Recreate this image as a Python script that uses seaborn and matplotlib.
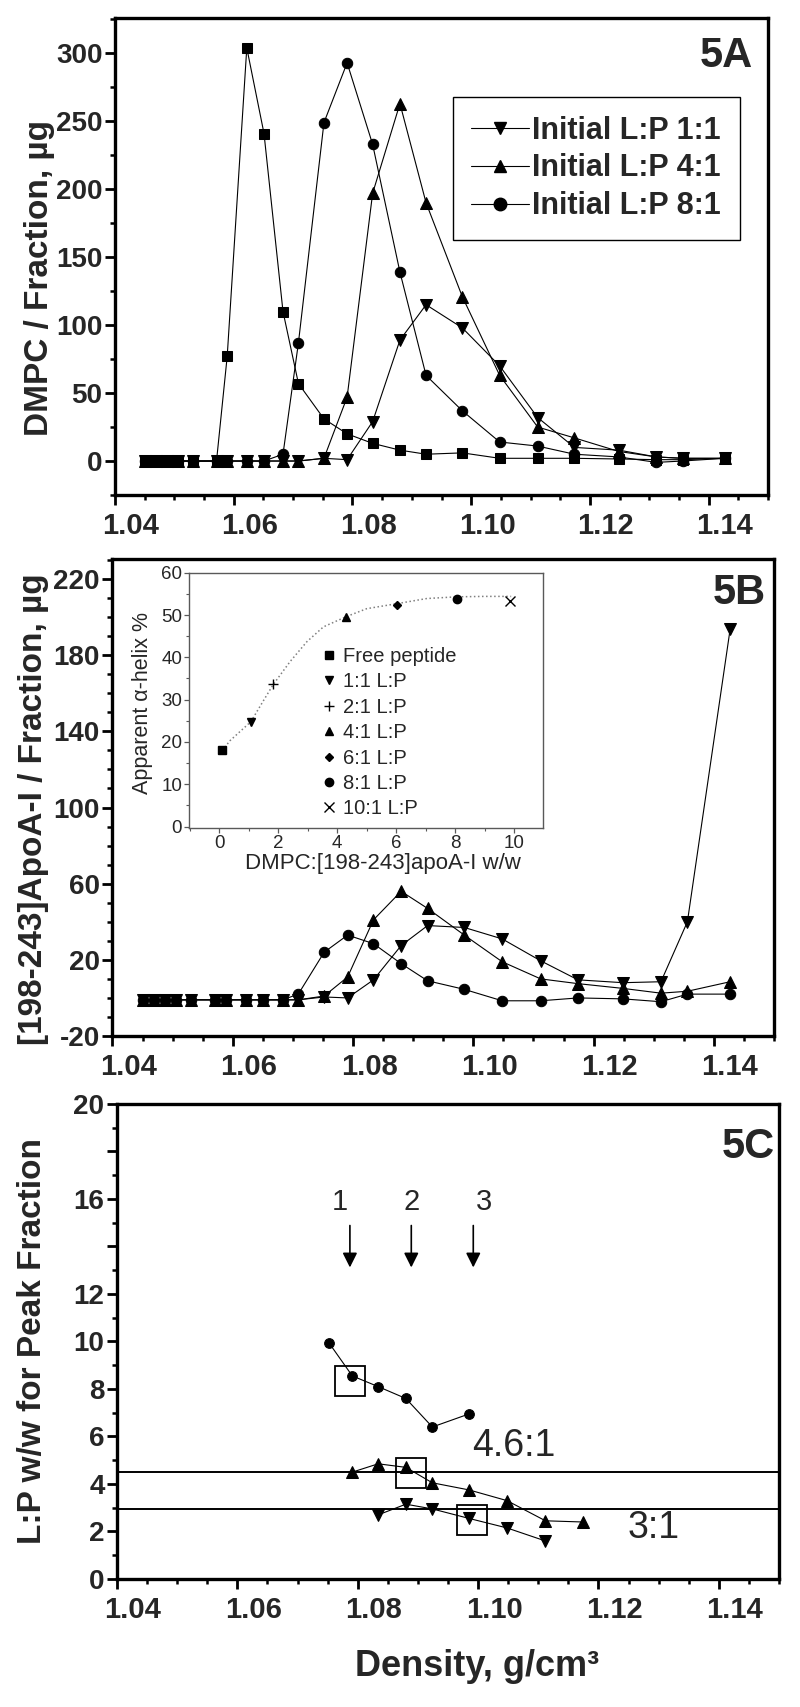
import numpy as np
import pandas as pd
import matplotlib
matplotlib.use("Agg")
import matplotlib.pyplot as plt
import matplotlib.transforms as mtransforms
from matplotlib.lines import Line2D
from matplotlib.ticker import FixedLocator, MultipleLocator
import seaborn as sns

# fraction densities (g/cm3), shared by panels 5A and 5B
density = [1.0451, 1.0469, 1.0488, 1.0506, 1.0531, 1.0571, 1.0589, 1.0622, 1.0651, 1.0683,
           1.0709, 1.0752, 1.0791, 1.0834, 1.0880, 1.0924, 1.0985, 1.1048, 1.1112, 1.1174,
           1.1249, 1.1312, 1.1356, 1.1427]

# 5A: DMPC / fraction (ug)
a_free = [0, 0, 0, 0, 0, 0, 77, 304, 241, 110, 57, 31, 20, 13, 8, 5, 6, 2, 2, 2, 1.5, 1, 1, 2]
a_lp11 = [0, 0, 0, 0, 0, 0, 0, 0, 0, 0, 0, 2, 1, 29, 89, 115, 98, 70, 32, 10, 8, 3, 2, 2]
a_lp41 = [0, 0, 0, 0, 0, 0, 0, 0, 0, 0, 0, 2, 47, 197, 263, 190, 121, 63, 25, 17, 7, 3, 2, 2]
a_lp81 = [0, 0, 0, 0, 0, 0, 0, 0, 0, 5, 87, 249, 293, 233, 139, 63, 37, 14, 11, 5, 3, -1, 0, 2]
a_legend = ['Initial L:P 1:1', 'Initial L:P 4:1', 'Initial L:P 8:1']

# 5B: [198-243]apoA-I / fraction (ug)
b_lp11 = [-1, -1, -1, -1, -1, -1, -1, -1, -1, -1, -1, 0.5, 0, 9.5, 27.5, 38, 37, 31, 19.5, 9.5, 8, 8.5, 40, 193.5]
b_lp41 = [-1, -1, -1, -1, -1, -1, -1, -1, -1, -1, -1, 1, 11, 41, 56, 47, 33, 19, 10, 7.5, 5, 2.5, 3.5, 8.5]
b_lp81 = [-1, -1, -1, -1, -1, -1, -1, -1, -1, -1, 2, 24, 33, 28.5, 18, 9, 4.5, -1.5, -1.5, 0, -0.5, -2, 2, 2]

# 5B inset: apparent alpha-helix vs DMPC:peptide w/w
inset_ratio = [0.08, 1.07, 1.83, 4.30, 6.04, 8.06, 9.87]
inset_helix = [18.0, 24.8, 33.6, 49.6, 52.3, 53.9, 53.3]
inset_labels = ['Free peptide', '1:1 L:P', '2:1 L:P', '4:1 L:P', '6:1 L:P', '8:1 L:P', '10:1 L:P']
inset_markers = ['s', 'v', '+', '^', 'D', 'o', 'x']
fit_ratio = [0.1, 0.36, 1.07, 1.49, 1.83, 2.40, 2.97, 3.53, 4.30, 5.0, 6.04, 7.04, 8.06, 9.0, 9.9]
fit_helix = [18.0, 20.3, 24.8, 29.7, 33.6, 39.0, 43.7, 47.2, 49.6, 51.5, 52.7, 53.9, 54.3, 54.4, 54.4]

# 5C: L:P w/w for peak fraction
c_dens81 = [1.0752, 1.0791, 1.0834, 1.0880, 1.0924, 1.0985]
c_lp81 = [9.95, 8.55, 8.1, 7.6, 6.4, 6.95]
c_dens41 = [1.0791, 1.0834, 1.0880, 1.0924, 1.0985, 1.1048, 1.1112, 1.1174]
c_lp41 = [4.5, 4.85, 4.7, 4.05, 3.75, 3.3, 2.45, 2.4]
c_dens11 = [1.0834, 1.0880, 1.0924, 1.0985, 1.1048, 1.1112]
c_lp11 = [2.7, 3.15, 2.95, 2.55, 2.15, 1.6]
peak_dens = [1.0787, 1.0888, 1.0990]
peak_lp = [8.35, 4.45, 2.5]
ref_lp = [4.5, 2.95]
ref_labels = ['4.6:1', '3:1']
arrow_dens = [1.0787, 1.0889, 1.0992]
arrow_label_dens = [1.0770, 1.0890, 1.1009]
arrow_labels = ['1', '2', '3']

xticks = [1.04, 1.06, 1.08, 1.10, 1.12, 1.14]
xtick_labels = ['1.04', '1.06', '1.08', '1.10', '1.12', '1.14']

sns.set_style("ticks")
plt.rcParams['font.family'] = ['Liberation Sans', 'DejaVu Sans']

fig = plt.figure(figsize=(8, 17.07), dpi=100)
axA = fig.add_axes([0.14375, 0.71002, 0.81625, 0.27944])
axB = fig.add_axes([0.1406, 0.39308, 0.8269, 0.27944])
axC = fig.add_axes([0.14625, 0.07499, 0.8275, 0.27827])
axI = fig.add_axes([0.23625, 0.51476, 0.44213, 0.14974])

shift = mtransforms.ScaledTranslation(16 / 100, 0, fig.dpi_scale_trans)


def frame(ax, ylim, yticks, ylabels, yminor):
    ax.set_xlim(1.04, 1.15)
    ax.set_ylim(*ylim)
    ax.xaxis.set_major_locator(FixedLocator(xticks))
    ax.set_xticklabels(xtick_labels)
    ax.xaxis.set_minor_locator(MultipleLocator(0.005))
    ax.set_yticks(yticks)
    ax.set_yticklabels(ylabels)
    ax.yaxis.set_minor_locator(MultipleLocator(yminor))
    for s in ax.spines.values():
        s.set_linewidth(2.4)
        s.set_color('k')
    ax.tick_params(which='major', length=7, width=2.0, direction='out', color='k')
    ax.tick_params(which='minor', length=3.5, width=1.8, direction='out', color='k')
    ax.tick_params(axis='x', labelsize=21, pad=5)
    ax.tick_params(axis='y', labelsize=20, pad=2)
    for lab in ax.get_xticklabels() + ax.get_yticklabels():
        lab.set_fontweight('bold')
    for lab in ax.get_xticklabels():
        lab.set_transform(lab.get_transform() + shift)
    ax.set_xlabel('')


line_kw = dict(color='k', lw=0.8, mec='k', mfc='k', legend=False, sort=False)

# ---- 5A
sns.lineplot(x=density, y=a_free, marker='s', ms=7.5, ax=axA, **line_kw)
sns.lineplot(x=density, y=a_lp81, marker='o', ms=7.5, ax=axA, **line_kw)
sns.lineplot(x=density, y=a_lp41, marker='^', ms=8.5, ax=axA, **line_kw)
sns.lineplot(x=density, y=a_lp11, marker='v', ms=8.5, ax=axA, **line_kw)
frame(axA, (-25, 326), list(range(0, 301, 50)), [str(v) for v in range(0, 301, 50)], 25)
axA.set_ylabel('DMPC / Fraction, µg', fontsize=24, fontweight='bold', va='center')
axA.yaxis.set_label_coords(-0.116, 0.455)
axA.text(0.977, 0.897, '5A', transform=axA.transAxes, ha='right', va='baseline',
         fontsize=30, fontweight='bold')
handles = [Line2D([], [], color='k', lw=0.8, marker=m, ms=9, mfc='k', mec='k')
           for m in ['v', '^', 'o']]
leg = axA.legend(handles, a_legend, loc='upper left', bbox_to_anchor=(0.5176, 0.834),
                 frameon=True, fancybox=False, edgecolor='k', framealpha=1,
                 prop=dict(weight='bold', size=22), handlelength=1.9, handletextpad=0.1,
                 labelspacing=0.26, borderpad=0.6, borderaxespad=0)
leg.get_frame().set_linewidth(1.0)

# ---- 5B
sns.lineplot(x=density, y=b_lp81, marker='o', ms=7.5, ax=axB, **line_kw)
sns.lineplot(x=density, y=b_lp41, marker='^', ms=8.5, ax=axB, **line_kw)
sns.lineplot(x=density, y=b_lp11, marker='v', ms=8.5, ax=axB, **line_kw)
frame(axB, (-20, 230.5), list(range(-20, 221, 40)), [str(v) for v in range(-20, 221, 40)], 10)
axB.set_ylabel('[198-243]ApoA-I / Fraction, µg', fontsize=24, fontweight='bold', va='center')
axB.yaxis.set_label_coords(-0.120, 0.475)
axB.text(0.988, 0.906, '5B', transform=axB.transAxes, ha='right', va='baseline',
         fontsize=30, fontweight='bold')

# ---- 5B inset
sns.lineplot(x=fit_ratio, y=fit_helix, color='0.5', lw=1.1, linestyle=':', legend=False,
             ax=axI)
for xv, yv, lab, m in zip(inset_ratio, inset_helix, inset_labels, inset_markers):
    ms = 6.5 if m in ('+', 'x') else 6
    if m == 'D':
        ms = 4.5
    sns.lineplot(x=[xv], y=[yv], marker=m, ms=ms, linestyle='none', color='k', mec='k',
                 mfc='k', mew=1.0, label=lab, ax=axI)
axI.set_xlim(-1.03, 10.97)
axI.set_ylim(-0.4, 59.6)
axI.set_xticks(range(0, 11, 2))
axI.set_yticks(range(0, 61, 10))
axI.xaxis.set_minor_locator(MultipleLocator(1))
axI.yaxis.set_minor_locator(MultipleLocator(5))
for s in axI.spines.values():
    s.set_linewidth(1.0)
    s.set_color('0.35')
axI.tick_params(which='major', length=3.5, width=0.9, direction='out', color='0.35',
                labelsize=13.5, pad=1.5)
axI.tick_params(which='minor', length=2, width=0.8, direction='out', color='0.35')
axI.set_xlabel('DMPC:[198-243]apoA-I w/w', fontsize=16, va='center')
axI.xaxis.set_label_coords(0.549, -0.136)
axI.set_ylabel('Apparent α-helix %', fontsize=15.5, va='center')
axI.yaxis.set_label_coords(-0.131, 0.492)
h, l = axI.get_legend_handles_labels()
axI.legend(h, l, loc='upper left', bbox_to_anchor=(0.373, 0.71), frameon=False,
           fontsize=14.5, handlelength=0.8, handletextpad=0.3, labelspacing=0.32,
           borderpad=0, borderaxespad=0)

# ---- 5C
for v in ref_lp:
    axC.axhline(v, color='k', lw=1.4)
sns.lineplot(x=c_dens81, y=c_lp81, marker='o', ms=7, ax=axC, **line_kw)
sns.lineplot(x=c_dens41, y=c_lp41, marker='^', ms=8, ax=axC, **line_kw)
sns.lineplot(x=c_dens11, y=c_lp11, marker='v', ms=8, ax=axC, **line_kw)
sns.lineplot(x=peak_dens, y=peak_lp, marker='s', ms=21, linestyle='none', color='k',
             mec='k', mfc='none', mew=1.3, legend=False, ax=axC)
c_ticks = list(range(0, 21, 2))
c_labels = [str(v) if v not in (14, 18) else '' for v in c_ticks]
frame(axC, (0, 20), c_ticks, c_labels, 1)
axC.set_ylabel('L:P w/w for Peak Fraction', fontsize=24, fontweight='bold', va='center')
axC.yaxis.set_label_coords(-0.127, 0.5)
axC.set_xlabel('Density, g/cm³', fontsize=26, fontweight='bold', va='center')
axC.xaxis.set_label_coords(0.544, -0.185)
axC.text(0.993, 0.886, '5C', transform=axC.transAxes, ha='right', va='baseline',
         fontsize=30, fontweight='bold')
for xd, xl, lab in zip(arrow_dens, arrow_label_dens, arrow_labels):
    axC.annotate('', xy=(xd, 13.0), xytext=(xd, 15.0),
                 arrowprops=dict(arrowstyle='-|>', color='k', lw=1.2, mutation_scale=22))
    axC.text(xl, 15.55, lab, ha='center', va='baseline', fontsize=21)
axC.text(1.106, 5.58, ref_labels[0], ha='center', va='center', fontsize=27)
axC.text(1.1291, 2.16, ref_labels[1], ha='center', va='center', fontsize=27)

fig.savefig('out.png', dpi=100)
